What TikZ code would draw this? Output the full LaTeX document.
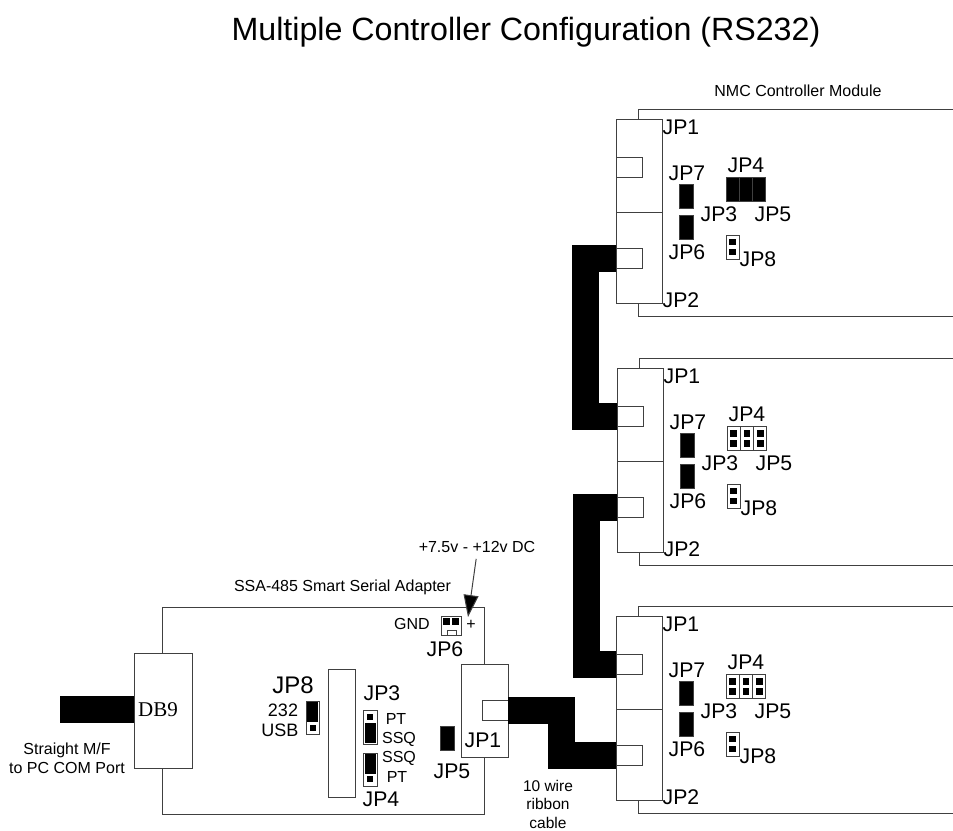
\documentclass[tikz,border=0pt]{standalone}
\usepackage{fontspec}
\setmainfont{Liberation Sans}
\newfontfamily\dbfont{Liberation Serif}
\usetikzlibrary{positioning,arrows.meta}
\definecolor{edge}{HTML}{404040}

\begin{document}
\begin{tikzpicture}[x=1pt,y=-1pt]
\tikzstyle{brd}=[draw=edge,fill=white,line width=1pt,inner sep=0pt,outer sep=0pt]
\tikzstyle{jmpr}=[brd,minimum width=14pt,minimum height=24pt,fill=black]
\tikzstyle{pinbk}=[fill=black,inner sep=0pt,outer sep=0pt,minimum size=6.5pt]
\tikzstyle{fillbk}=[fill=black,inner sep=0pt,outer sep=0pt,minimum width=11pt,minimum height=20pt]
\tikzstyle{jp}=[inner sep=0pt,font=\fontsize{21.2}{23}\selectfont]
\tikzstyle{lbl}=[inner sep=0pt,align=center,font=\fontsize{16}{19}\selectfont]
\tikzstyle{cable}=[line width=27pt,black]
\useasboundingbox (0,0) rectangle (953,830);
\node[inner sep=0pt,font=\fontsize{32.2}{35}\selectfont] (title) at (526,32) {Multiple Controller Configuration (RS232)};
\node[lbl] (nmc) at (798,91) {NMC Controller Module};
% the three controller modules
\foreach \m/\dx/\dy/\rowfill in {a/0/0/black,b/1/249/white,c/0/497/white}{
  \begin{scope}[shift={(\dx,\dy)}]
  \draw[edge,line width=1pt] (953,109) -- (638,109) -- (638,119);
  \draw[edge,line width=1pt] (638,303) -- (638,316) -- (953,316);
  \node[brd,minimum width=46pt,minimum height=93pt] (\m-c1) at (639,165.5) {};
  \node[brd,minimum width=46pt,minimum height=91pt,below=0pt of \m-c1] (\m-c2) {};
  \node[brd,minimum width=26pt,minimum height=20pt] (\m-p1) at (629,167) {};
  \node[brd,minimum width=26pt,minimum height=20pt] (\m-p2) at (629,258) {};
  \node[jmpr] (\m-j7) at (686,196.5) {};
  \node[jmpr] (\m-j6) at (686,227.5) {};
  \foreach \c/\x in {1/732.7,2/746,3/759.3}{
    \node[brd,fill=\rowfill,minimum width=13.3pt,minimum height=24pt] (\m-r\c) at (\x,189) {};
    \node[pinbk] (\m-r\c u) at (\x,184.7) {};
    \node[pinbk] (\m-r\c d) at (\x,194.3) {};
  }
  \node[brd,minimum width=13pt,minimum height=24pt] (\m-j8) at (732.5,247) {};
  \node[pinbk] (\m-j8u) at (732.5,242) {};
  \node[pinbk] (\m-j8d) at (732.5,252) {};
  \node[jp] (\m-l1) at (681,127) {JP1};
  \node[jp] (\m-l2) at (681,300) {JP2};
  \node[jp] (\m-l3) at (719,214) {JP3};
  \node[jp] (\m-l4) at (746,165) {JP4};
  \node[jp] (\m-l5) at (773,214) {JP5};
  \node[jp] (\m-l6) at (687,252) {JP6};
  \node[jp] (\m-l7) at (687,173) {JP7};
  \node[jp] (\m-l8) at (758,259) {JP8};
  \end{scope}
}
% serial adapter
\node[lbl] (ssa) at (342.5,587) {SSA-485 Smart Serial Adapter};
\node[brd,minimum width=322pt,minimum height=207pt] (board) at (323,710.5) {};
\node[brd,minimum width=58pt,minimum height=115pt] (db9) at (163,710.5) {};
\node[inner sep=0pt,font=\dbfont\fontsize{21}{23}\selectfont] (db9t) at (158,710) {DB9};
\node[brd,minimum width=27pt,minimum height=128pt] (chip) at (341.5,733) {};
\node[brd,minimum width=47pt,minimum height=93pt] (ajp1) at (484.5,710.5) {};
\node[brd,minimum width=26pt,minimum height=20pt] (aport) at (495,710) {};
\node[lbl] (gnd) at (412,624) {GND};
\node[lbl] (plus) at (471,625) {+};
\node[brd,minimum width=20pt,minimum height=19pt] (aj6) at (451,625.5) {};
\node[pinbk] (aj6a) at (446.7,621.7) {};
\node[pinbk] (aj6b) at (455.7,621.7) {};
\node[brd,minimum width=9pt,minimum height=5pt] (aj6n) at (451.5,632.5) {};
\node[brd,minimum width=13pt,minimum height=33pt] (aj8) at (312.5,717.5) {};
\node[fillbk] (aj8f) at (312.5,712) {};
\node[pinbk,minimum size=6pt] (aj8p) at (312.5,728) {};
\node[brd,minimum width=14pt,minimum height=34pt] (aj3) at (370,727) {};
\node[pinbk,minimum size=6pt] (aj3p) at (370,717) {};
\node[fillbk] (aj3f) at (370,733) {};
\node[brd,minimum width=14pt,minimum height=33pt] (aj4) at (370,769.5) {};
\node[fillbk] (aj4f) at (370,763.5) {};
\node[pinbk,minimum size=6pt] (aj4p) at (370,778.7) {};
\node[jmpr] (aj5) at (447,738) {};
\node[jp] (al6) at (445,649) {JP6};
\node[jp,font=\fontsize{24}{26}\selectfont] (al8) at (293,685) {JP8};
\node[jp] (al3) at (382,693) {JP3};
\node[jp] (al4) at (381,799) {JP4};
\node[jp] (al5) at (452,771) {JP5};
\node[jp] (al1) at (483,740) {JP1};
\node[lbl,font=\fontsize{18}{20}\selectfont] (a232) at (283,710) {232};
\node[lbl,font=\fontsize{18}{20}\selectfont] (ausb) at (280,730) {USB};
\node[lbl] (apt1) at (396,719) {PT};
\node[lbl] (assq1) at (399,739) {SSQ};
\node[lbl] (assq2) at (399,758) {SSQ};
\node[lbl] (apt2) at (397,777) {PT};
\node[lbl] (com) at (67,758) {Straight M/F\\to PC COM Port};
\node[lbl,font=\fontsize{15.5}{18.5}\selectfont] (ribbon) at (548,804) {10 wire\\ribbon\\cable};
\node[lbl] (vin) at (477,547) {+7.5v - +12v DC};
\coordinate (vtip) at (468,617);
\coordinate (dbtap) at ([yshift=1pt]db9.west);
\draw[edge,line width=1pt,shorten <=6pt,-{Triangle[length=22pt,width=15pt,fill=black]}] (vin.south) -- (vtip);
% ribbon cables
\draw[cable] (a-p2.west) -- ++(-30.5,0) |- (b-p1.west);
\draw[cable] (b-p2.west) -- ++(-30.5,0) |- (c-p1.west);
\draw[cable] (aport.east) -- ++(53.5,0) |- (c-p2.west);
\draw[cable] (dbtap) -- ++(-74,0);
\end{tikzpicture}
\end{document}
